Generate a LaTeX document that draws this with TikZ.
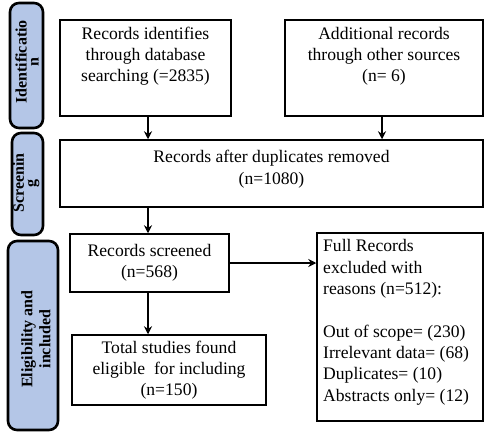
\documentclass[tikz,border=0pt]{standalone}
\usepackage{fontspec}
\setmainfont{Liberation Serif}
\usetikzlibrary{arrows.meta}
\definecolor{barblue}{RGB}{180,198,231}
\begin{document}
\begin{tikzpicture}[x=1pt,y=-1pt,
  box/.style={draw=black, line width=1.5pt, inner sep=0pt},
  txt/.style={font=\fontsize{17.6}{21.3}\selectfont, align=center, inner sep=0pt},
  bar/.style={draw=black, line width=2.6pt, fill=barblue, rounded corners=9pt},
  lab/.style={align=center, rotate=90, inner sep=0pt},
  arr/.style={line width=2.1pt, -{Stealth[length=8pt,width=8pt]}}]
\useasboundingbox (0,0) rectangle (484,433);
% phase bars
\draw[bar] (10,3) rectangle (43,128);
\draw[bar] (12,133) rectangle (43,235);
\draw[bar] (8,241) rectangle (58,430);
\node[lab, font=\fontsize{16}{12}\selectfont\bfseries] (l1) at (27,62) {Identificatio\\n};
\node[lab, font=\fontsize{16}{12}\selectfont\bfseries] (l2) at (26,183) {Screenin\\g};
\node[lab, font=\fontsize{16}{18}\selectfont\bfseries] (l3) at (36,339) {Eligibility and\\included};
% boxes
\node[box, minimum width=171, minimum height=96] (b1) at (145.5,68) {};
\node[box, minimum width=198, minimum height=96] (b2) at (384,68) {};
\node[box, minimum width=423, minimum height=67] (b3) at (271.5,173.5) {};
\node[box, minimum width=159, minimum height=58] (b4) at (149.5,263) {};
\node[box, minimum width=194, minimum height=70] (b5) at (169,370) {};
\node[box, minimum width=166, minimum height=188] (b6) at (400,327) {};
% texts
\node[txt, anchor=base] (t1) at (145.5,82) {Records identifies\\through database\\searching (=2835)};
\node[txt, anchor=base] (t2) at (384,82) {Additional records\\through other sources\\(n= 6)};
\node[txt, anchor=base] (t3) at (271.5,184) {Records after duplicates removed\\(n=1080)};
\node[txt] (t4) at (b4) {Records screened\\(n=568)};
\node[txt] (t5) at (b5) {Total studies found\\eligible\ \ for including\\(n=150)};
\node[txt, align=left, anchor=base west] (t6) at (323,401) {Full Records\\excluded with\\reasons (n=512):\\[21.3pt]Out of scope= (230)\\Irrelevant data= (68)\\Duplicates= (10)\\Abstracts only= (12)};
% connectors
\coordinate (c1) at (148,116);
\draw[arr] (c1) -- (c1 |- b3.north);
\coordinate (c2) at (382,116);
\draw[arr] (c2) -- (c2 |- b3.north);
\coordinate (c3) at (148,207);
\draw[arr] (c3) -- (c3 |- b4.north);
\coordinate (c4) at (148,292);
\draw[arr] (c4) -- (c4 |- b5.north);
\draw[arr] (b4.east) -- (b6.west |- b4.east);
\end{tikzpicture}
\end{document}
